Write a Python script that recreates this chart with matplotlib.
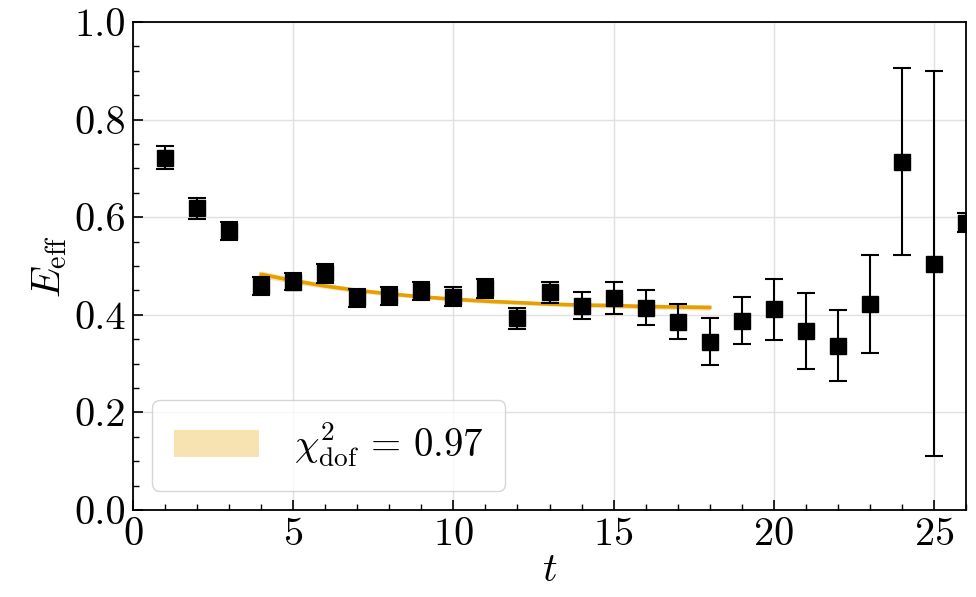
import matplotlib
matplotlib.use("Agg")
import matplotlib.pyplot as plt
import numpy as np
from matplotlib.ticker import MultipleLocator

plt.rcParams['font.family'] = 'serif'
plt.rcParams['font.serif'] = ['cmr10']
plt.rcParams['mathtext.fontset'] = 'cm'
plt.rcParams['axes.formatter.use_mathtext'] = True

# effective energy per time slice
t = [1, 2, 3, 4, 5, 6, 7, 8, 9, 10, 11, 12, 13, 14, 15, 16, 17, 18, 19, 20,
     21, 22, 23, 24, 25, 26]
e_eff = [0.722, 0.618, 0.572, 0.459, 0.468, 0.485, 0.434, 0.439, 0.449, 0.437,
         0.454, 0.393, 0.446, 0.419, 0.434, 0.415, 0.386, 0.345, 0.388, 0.411,
         0.367, 0.337, 0.422, 0.714, 0.505, 0.589]
e_err = [0.023, 0.021, 0.019, 0.019, 0.018, 0.019, 0.018, 0.018, 0.018, 0.019,
         0.019, 0.022, 0.021, 0.028, 0.033, 0.035, 0.036, 0.048, 0.048, 0.062,
         0.077, 0.073, 0.100, 0.191, 0.395, 0.02]

# fit curve over the fit window
fit_t = [4, 5, 6, 7, 8, 9, 10, 11, 12, 13, 14, 15, 16, 17, 18]
fit_y = [0.483, 0.470, 0.459, 0.450, 0.443, 0.437, 0.432, 0.428, 0.425,
         0.422, 0.420, 0.419, 0.417, 0.416, 0.415]
fit_err = [0.007, 0.006, 0.005, 0.005, 0.004, 0.004, 0.004, 0.004, 0.004,
           0.004, 0.004, 0.005, 0.005, 0.005, 0.006]
chi2 = 0.97

orange = '#E69F00'
fs = 29

fig = plt.figure(figsize=(9.76, 5.97), dpi=100)
ax = fig.add_axes([0.1363, 0.1457, 0.8535, 0.8174])

fy = np.array(fit_y)
fe = np.array(fit_err)
ax.fill_between(fit_t, fy - fe, fy + fe, color=orange, alpha=0.3, lw=0,
                label=r'$\chi^2_{\rm dof}\,=\,%.2f$' % chi2, zorder=2)
ax.plot(fit_t, fit_y, color=orange, lw=2.6, zorder=2)

ax.errorbar(t, e_eff, yerr=e_err, fmt='s', color='black', ms=11.5,
            elinewidth=1.5, capsize=6.5, capthick=1.5, zorder=3)

ax.set_xlim(0, 26)
ax.set_ylim(0, 1)
ax.xaxis.set_major_locator(MultipleLocator(5))
ax.xaxis.set_minor_locator(MultipleLocator(1))
ax.yaxis.set_major_locator(MultipleLocator(0.2))
ax.yaxis.set_minor_locator(MultipleLocator(0.05))
ax.yaxis.set_major_formatter(matplotlib.ticker.FormatStrFormatter('%.1f'))
ax.tick_params(which='both', direction='in', labelsize=fs)
ax.tick_params(which='major', length=7, width=1.2, pad=5)
ax.tick_params(which='minor', length=4, width=1.0)
for s in ax.spines.values():
    s.set_linewidth(1.3)

ax.grid(True, which='major', color='#e0e0e0', lw=1.0, zorder=0)
ax.set_axisbelow(True)

ax.set_xlabel(r'$t$', fontsize=fs, labelpad=0)
ax.set_ylabel(r'$E_{\rm eff}$', fontsize=fs, labelpad=4)

ax.legend(loc='lower left', fontsize=fs - 1, fancybox=True, framealpha=0.8,
          edgecolor='#cccccc', handlelength=2.2, handletextpad=0.9,
          borderpad=0.55, borderaxespad=0.5)

fig.savefig('out.png', dpi=100)
